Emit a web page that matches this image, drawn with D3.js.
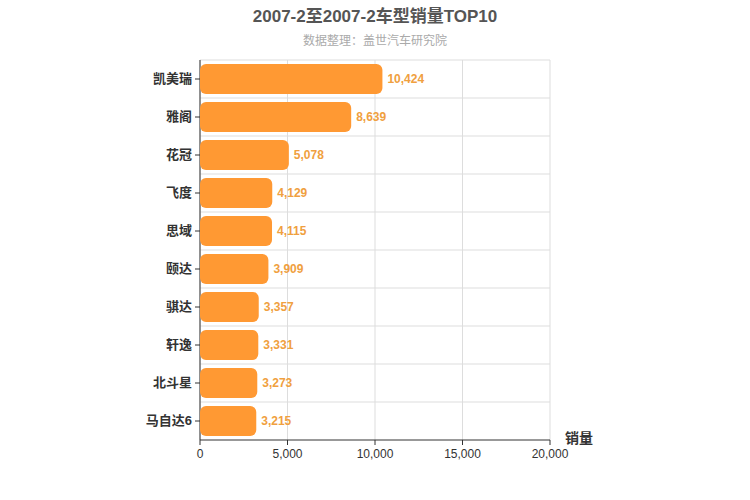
<!DOCTYPE html>
<html><head><meta charset="utf-8">
<script src="https://cdn.jsdelivr.net/npm/d3@7/dist/d3.min.js"></script>
<style>body{margin:0;background:#fff}text{font-family:"Liberation Sans","Noto Sans CJK SC",sans-serif}</style>
</head><body><svg id="c" width="750" height="500"></svg>
<script>
const categories=["凯美瑞","雅阁","花冠","飞度","思域","颐达","骐达","轩逸","北斗星","马自达6"];
const values=[10424,8639,5078,4129,4115,3909,3357,3331,3273,3215];
const xTicks=[0,5000,10000,15000,20000];
const svg=d3.select("#c");
const L=200,R=550,T=60,B=440;
const x=d3.scaleLinear().domain([0,20000]).range([L,R]);
const y=d3.scaleBand().domain(categories).range([T,B]);
const g=svg.append("g");
xTicks.forEach(t=>g.append("line").attr("x1",x(t)).attr("x2",x(t)).attr("y1",T).attr("y2",B).attr("stroke","#ddd"));
categories.forEach(c=>g.append("line").attr("x1",L).attr("x2",R).attr("y1",y(c)).attr("y2",y(c)).attr("stroke","#ddd"));
g.append("line").attr("x1",L).attr("x2",R).attr("y1",B).attr("y2",B).attr("stroke","#333");
g.append("line").attr("x1",L).attr("x2",L).attr("y1",T).attr("y2",B).attr("stroke","#333");
xTicks.forEach(t=>{g.append("line").attr("x1",x(t)).attr("x2",x(t)).attr("y1",B).attr("y2",B+5).attr("stroke","#333");
 g.append("text").attr("x",x(t)).attr("y",B+18).attr("text-anchor","middle").attr("font-size",12).attr("fill","#333").text(d3.format(",")(t));});
categories.forEach(c=>{g.append("line").attr("x1",L-5).attr("x2",L).attr("y1",y(c)+y.bandwidth()/2).attr("y2",y(c)+y.bandwidth()/2).attr("stroke","#333");
 g.append("text").attr("x",L-8).attr("y",y(c)+y.bandwidth()/2+4).attr("text-anchor","end").attr("font-size",13).attr("font-weight","bold").attr("fill","#333").text(c);});
const bh=30;
categories.forEach((c,i)=>{
 g.append("rect").attr("x",x(0)).attr("y",y(c)+(y.bandwidth()-bh)/2).attr("width",x(values[i])-x(0)).attr("height",bh).attr("rx",6).attr("fill","#ff9933");
 g.append("text").attr("x",x(values[i])+5).attr("y",y(c)+y.bandwidth()/2+4).attr("font-size",12).attr("font-weight","bold").attr("fill","#f0a040").text(d3.format(",")(values[i]));
});
svg.append("text").attr("x",375).attr("y",22).attr("text-anchor","middle").attr("font-size",17).attr("font-weight","bold").attr("fill","#555").text("2007-2至2007-2车型销量TOP10");
svg.append("text").attr("x",375).attr("y",45).attr("text-anchor","middle").attr("font-size",12).attr("fill","#aaa").text("数据整理：盖世汽车研究院");
svg.append("text").attr("x",565).attr("y",443).attr("font-size",14).attr("font-weight","bold").attr("fill","#333").text("销量");
</script></body></html>
